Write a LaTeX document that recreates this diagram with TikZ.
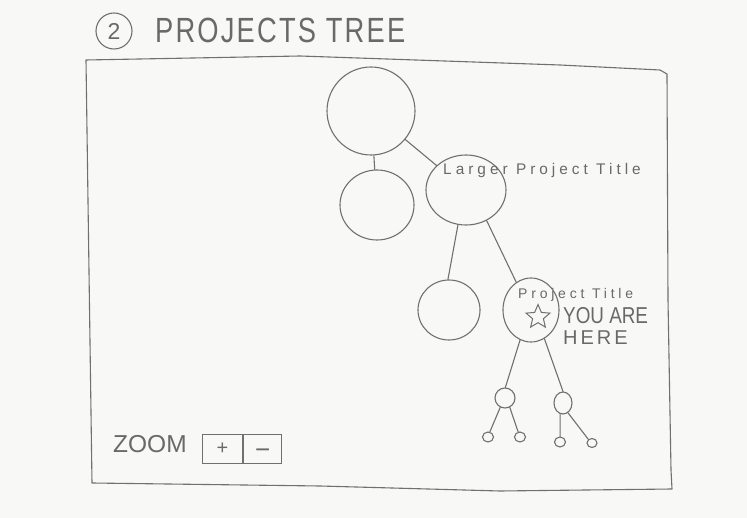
\documentclass[tikz,border=0pt]{standalone}
\usepackage{fontspec}
\setmainfont{Liberation Sans}
\usetikzlibrary{shapes.geometric}
\definecolor{paper}{RGB}{248,248,247}
\definecolor{pencil}{RGB}{112,112,112}
\definecolor{pentext}{RGB}{105,105,105}
\begin{document}
\begin{tikzpicture}[x=1pt,y=-1pt,
  bub/.style={ellipse, draw=pencil, line width=1.1pt, inner sep=0pt},
  lnk/.style={draw=pencil, line width=1.1pt, line cap=round},
  txt/.style={text=pentext, inner sep=0pt, anchor=base west},
  btn/.style={draw=pencil, line width=1.1pt, inner sep=0pt, anchor=north west, text=pentext, font=\fontsize{20}{20}\selectfont}]
\fill[paper] (0,0) rectangle (747,518);
\useasboundingbox (0,0) rectangle (747,518);

% title
\node[circle, draw=pencil, line width=1.1pt, minimum size=36pt, inner sep=0pt, text=pentext, font=\fontsize{23}{23}\selectfont] (num) at (114,31) {2};
\node[txt, font=\fontsize{35}{35}\selectfont\addfontfeature{LetterSpace=8}] (title) at (155,43) {\scalebox{0.78}[1]{PROJECTS TREE}};

% frame
\draw[pencil, line width=1.1pt, line join=round]
  (86,60) -- (300,56) -- (560,65) -- (660,70) -- (667,74) -- (668,300) -- (671,470) -- (672,489)
  -- (500,491) -- (320,486) -- (92,483) -- cycle;

% tree nodes
\node[bub, minimum width=88pt, minimum height=88pt] (root) at (371,111) {};
\node[bub, minimum width=74pt, minimum height=70pt] (sib) at (377,205) {};
\node[bub, minimum width=80pt, minimum height=70pt] (larger) at (466,190) {};
\node[bub, minimum width=62pt, minimum height=60pt] (left) at (449,310) {};
\node[bub, minimum width=56pt, minimum height=64pt] (proj) at (531,310) {};
\node[bub, minimum width=20pt, minimum height=20pt] (ca) at (505,398) {};
\node[bub, minimum width=18pt, minimum height=22pt] (cb) at (563,403) {};
\node[bub, minimum width=11pt, minimum height=10pt] (ta) at (488,437) {};
\node[bub, minimum width=11pt, minimum height=10pt] (tb) at (520,437) {};
\node[bub, minimum width=11pt, minimum height=10pt] (tc) at (560,442) {};
\node[bub, minimum width=10pt, minimum height=9pt] (td) at (592,443) {};

% connectors
\draw[lnk] (root) -- (sib);
\draw[lnk] (root) -- (larger);
\draw[lnk] (larger.257) -- (left.92);
\draw[lnk] (larger.304) -- (proj.118);
\draw[lnk] (proj.250) -- (ca.88);
\draw[lnk] (proj.295) -- (cb.90);
\draw[lnk] (ca.243) -- (ta.70);
\draw[lnk] (ca.297) -- (tb.110);
\draw[lnk] (cb.255) -- (tc.88);
\draw[lnk] (cb.297) -- (td.135);

% labels
\node[txt, font=\fontsize{15.4}{16}\selectfont\addfontfeature{LetterSpace=26}] (lt) at (443,175) {Larger Project Title};
\node[txt, font=\fontsize{14}{14}\selectfont\addfontfeature{LetterSpace=27}] (pt) at (518,299) {Project Title};
\node[star, star points=5, star point ratio=2.2, draw=pencil, line width=1pt, minimum size=25pt, inner sep=0pt] (star) at (538,317) {};
\node[txt, font=\fontsize{23}{24}\selectfont] (yah) at (563,324) {\scalebox{0.82}[1]{YOU ARE}};
\node[txt, font=\fontsize{20}{20}\selectfont\addfontfeature{LetterSpace=15}] (here) at (563,345) {HERE};

% zoom control
\node[txt, font=\fontsize{24.5}{25}\selectfont] (zoom) at (113,453) {ZOOM};
\node[btn, minimum width=40pt, minimum height=29pt] (plus) at (202,434) {+};
\node[btn, minimum width=38pt, minimum height=29pt, text height=18pt, text depth=0pt, font=\fontsize{26}{26}\selectfont] (minus) at (plus.north east) {−};
\end{tikzpicture}
\end{document}
